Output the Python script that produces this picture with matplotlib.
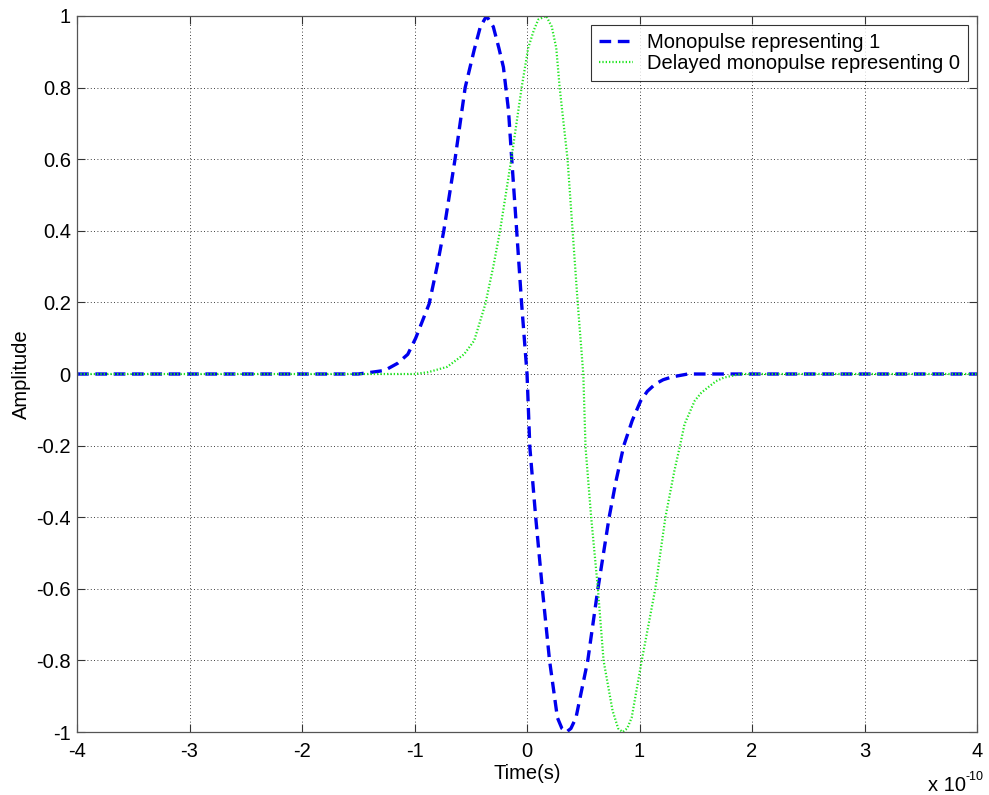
import matplotlib
matplotlib.use("Agg")
import matplotlib.pyplot as plt

plt.rcParams['font.family'] = ['Liberation Sans', 'DejaVu Sans']

# Time in units of 1e-10 s
t_mono = [-4.0, -1.50, -1.38, -1.265, -1.15, -1.06, -0.99, -0.87, -0.80, -0.74, -0.64, -0.55,
          -0.47, -0.415, -0.36, -0.30, -0.25, -0.21, -0.165, -0.136, -0.092, -0.048, 0.0,
          0.025, 0.077, 0.136, 0.20, 0.27, 0.31, 0.35, 0.39, 0.435, 0.54, 0.63, 0.73, 0.79,
          0.86, 0.935, 1.01, 1.07, 1.14, 1.21, 1.29, 1.43, 4.0]
a_mono = [0.0, 0.0, 0.005, 0.01, 0.03, 0.055, 0.10, 0.196, 0.30, 0.40, 0.60, 0.80,
          0.905, 0.97, 1.0, 0.97, 0.91, 0.857, 0.737, 0.60, 0.40, 0.196, 0.0,
          -0.205, -0.40, -0.60, -0.80, -0.96, -0.99, -1.0, -0.99, -0.96, -0.80, -0.60, -0.40, -0.30,
          -0.20, -0.13, -0.075, -0.048, -0.028, -0.016, -0.008, 0.0, 0.0]

t_delay = [-4.0, -1.0, -0.88, -0.71, -0.56, -0.47, -0.37, -0.30, -0.24, -0.14, -0.048,
           0.01, 0.06, 0.10, 0.17, 0.22, 0.26, 0.29, 0.36, 0.405, 0.45, 0.50, 0.52, 0.57,
           0.63, 0.68, 0.76, 0.81, 0.85, 0.89, 0.93, 1.02, 1.14, 1.23, 1.31, 1.36, 1.40,
           1.49, 1.55, 1.61, 1.68, 1.75, 1.90, 4.0]
a_delay = [0.0, 0.0, 0.005, 0.02, 0.055, 0.093, 0.196, 0.30, 0.40, 0.60, 0.80,
           0.91, 0.96, 0.99, 1.0, 0.97, 0.91, 0.80, 0.60, 0.40, 0.20, 0.0, -0.205, -0.40,
           -0.60, -0.80, -0.94, -0.99, -1.0, -0.99, -0.96, -0.80, -0.60, -0.40, -0.27, -0.20, -0.14,
           -0.075, -0.052, -0.037, -0.02, -0.01, 0.0, 0.0]

xticks = [-4, -3, -2, -1, 0, 1, 2, 3, 4]
yticks = [-1, -0.8, -0.6, -0.4, -0.2, 0, 0.2, 0.4, 0.6, 0.8, 1]
ytick_labels = ['-1', '-0.8', '-0.6', '-0.4', '-0.2', '0', '0.2', '0.4', '0.6', '0.8', '1']
xtick_labels = ['-4', '-3', '-2', '-1', '0', '1', '2', '3', '4']

FS = 14.5

fig = plt.figure(figsize=(9.89, 7.95), dpi=100)
ax = fig.add_axes([0.0779, 0.0792, 0.9100, 0.9007])

ax.plot(t_mono, a_mono, color='#0000ee', linestyle=(0, (3.5, 2.0)), linewidth=2.4,
        label='Monopulse representing 1')
ax.plot(t_delay, a_delay, color='#22e622', linestyle=(0, (0.6, 0.9)), linewidth=1.6,
        label='Delayed monopulse representing 0')

ax.set_xlim(-4, 4)
ax.set_ylim(-1, 1)
ax.set_xticks(xticks)
ax.set_xticklabels(xtick_labels)
ax.set_yticks(yticks)
ax.set_yticklabels(ytick_labels)
ax.tick_params(direction='in', length=6, width=0.8, labelsize=FS, color='#333333',
               top=True, right=True)
ax.tick_params(axis='y', pad=4.5)
ax.tick_params(axis='x', pad=7)
ax.grid(True, color='black', linestyle=(0, (1, 3)), linewidth=0.6)
for s in ax.spines.values():
    s.set_color('#555555')
    s.set_linewidth(0.9)

ax.set_xlabel('Time(s)', fontsize=FS, labelpad=2)
ax.set_ylabel('Amplitude', fontsize=FS, labelpad=4)

fig.text(928 / 989, 4 / 795, 'x 10', fontsize=FS, ha='left', va='baseline')
fig.text(966 / 989, 15 / 795, '-10', fontsize=9, ha='left', va='baseline')

leg = ax.legend(loc='upper right', fontsize=FS, frameon=True, fancybox=False,
                edgecolor='black', borderpad=0.4, labelspacing=0.1, handlelength=1.7,
                handletextpad=0.7, borderaxespad=0.45)
leg.get_frame().set_linewidth(0.8)

fig.savefig('out.png', dpi=100)
